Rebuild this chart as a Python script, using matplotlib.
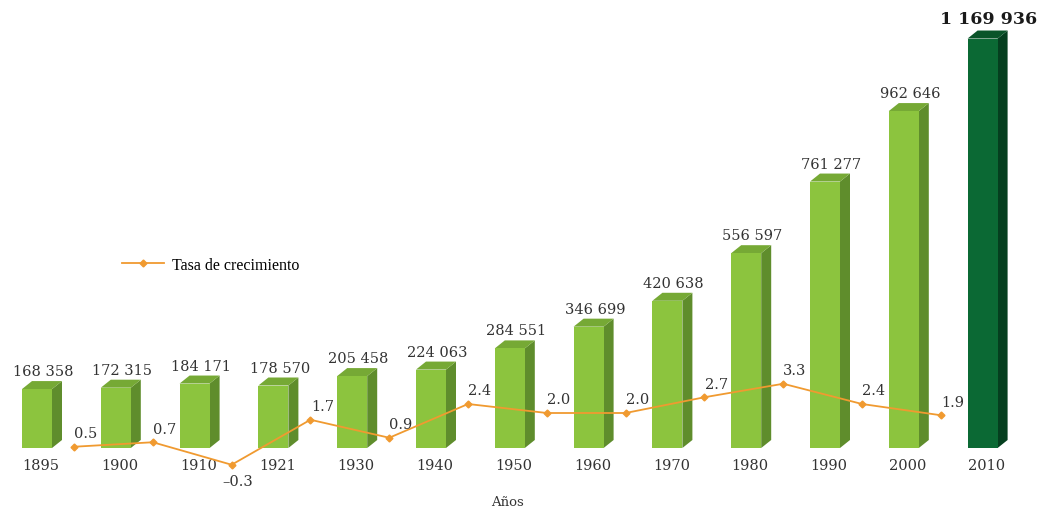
import numpy as np
import matplotlib.pyplot as plt
from matplotlib.patches import Polygon
from matplotlib.lines import Line2D

plt.rcParams['font.family'] = ['DejaVu Serif']

# datos
anios = ['1895', '1900', '1910', '1921', '1930', '1940', '1950',
         '1960', '1970', '1980', '1990', '2000', '2010']
poblacion = [168358, 172315, 184171, 178570, 205458, 224063, 284551,
             346699, 420638, 556597, 761277, 962646, 1169936]
etiquetas = ['168 358', '172 315', '184 171', '178 570', '205 458', '224 063',
             '284 551', '346 699', '420 638', '556 597', '761 277',
             '962 646', '1 169 936']
tasa = [0.5, 0.7, -0.3, 1.7, 0.9, 2.4, 2.0, 2.0, 2.7, 3.3, 2.4, 1.9]
tasa_txt = ['0.5', '0.7', '–0.3', '1.7', '0.9', '2.4', '2.0', '2.0',
            '2.7', '3.3', '2.4', '1.9']

verde = ('#8cc43e', '#5f8d2c', '#76a935')
verde_osc = ('#0b6934', '#053f1f', '#0a5429')
naranja = '#f09a30'

fig = plt.figure(figsize=(10.41, 5.10), dpi=100)
ax = fig.add_axes([0, 0, 1, 1])
px = 78.8                      # pixeles por categoria
py = 0.35 / 1000               # pixeles por habitante
ax.set_xlim(-37 / px, (1041 - 37) / px)
ax.set_ylim(-61 / py, (510 - 61) / py)
ax.axis('off')

x = np.arange(len(anios))
w = 30 / px
dx = 10 / px
dy = 8 / py

for i, v in enumerate(poblacion):
    front, side, top = verde_osc if i == len(anios) - 1 else verde
    l, r = x[i] - w / 2, x[i] + w / 2
    ax.add_patch(Polygon([(r, 0), (r + dx, dy), (r + dx, v + dy), (r, v)],
                         closed=True, facecolor=side, edgecolor='none'))
    ax.add_patch(Polygon([(l, v), (l + dx, v + dy), (r + dx, v + dy), (r, v)],
                         closed=True, facecolor=top, edgecolor='none'))
    ax.bar(x[i], v, width=w, color=front, edgecolor='none')
    if i == len(anios) - 1:
        ax.text(x[i] + 0.08, v + 20 / py, etiquetas[i], ha='center',
                va='center', fontsize=12.5, fontweight='bold', color='#1a1a1a')
    else:
        ax.text(x[i] + 0.08, v + 18 / py, etiquetas[i], ha='center',
                va='center', fontsize=10.5, color='#333333')
    ax.text(x[i] + 0.05, -17 / py, anios[i], ha='center', va='center',
            fontsize=10.5, color='#333333')

ax.text(507 / px - 37 / px, -54 / py, 'Años', ha='center', va='center',
        fontsize=9.5, color='#333333')

# tasa de crecimiento
ax2 = fig.add_axes([0, 0, 1, 1], sharex=ax)
ax2.set_ylim(-51 / 22.5, 459 / 22.5)
ax2.axis('off')
xt = x[:-1] + 0.47
ax2.plot(xt, tasa, color=naranja, lw=1.3, marker='D', ms=3.5,
         markeredgecolor=naranja)
for xi, t, s in zip(xt, tasa, tasa_txt):
    if t < 0:
        ax2.text(xi + 0.08, t - 0.72, s, ha='center', va='center',
                 fontsize=10.5, color='#333333')
    else:
        ax2.text(xi + 0.15, t + 0.6, s, ha='center', va='center',
                 fontsize=10.5, color='#333333')

h = Line2D([], [], color=naranja, lw=1.3, marker='D', ms=3.5)
fig.legend([h], ['Tasa de crecimiento'], loc='center left',
           bbox_to_anchor=(108 / 1041, 1 - 266 / 510), frameon=False,
           handlelength=2.6, handletextpad=0.5,
           prop={'family': 'Liberation Serif', 'size': 11.5})

fig.savefig('out.png', dpi=100, facecolor='white')
